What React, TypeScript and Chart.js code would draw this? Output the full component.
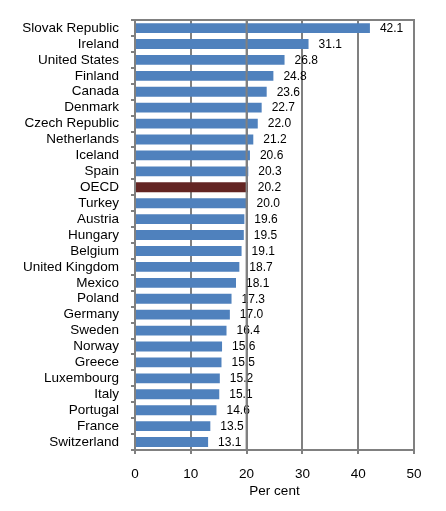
import React, { useEffect, useRef } from "react";
import { Chart, registerables } from "chart.js";

Chart.register(...registerables);

const categories = [
  "Slovak Republic", "Ireland", "United States", "Finland", "Canada", "Denmark",
  "Czech Republic", "Netherlands", "Iceland", "Spain", "OECD", "Turkey", "Austria",
  "Hungary", "Belgium", "United Kingdom", "Mexico", "Poland", "Germany", "Sweden",
  "Norway", "Greece", "Luxembourg", "Italy", "Portugal", "France", "Switzerland",
];
const values = [
  42.1, 31.1, 26.8, 24.8, 23.6, 22.7, 22.0, 21.2, 20.6, 20.3, 20.2, 20.0, 19.6,
  19.5, 19.1, 18.7, 18.1, 17.3, 17.0, 16.4, 15.6, 15.5, 15.2, 15.1, 14.6, 13.5, 13.1,
];
const highlight = "OECD";
const referenceValue = 20;
const xTitle = "Per cent";

const FONT = "'Liberation Sans', Arial, sans-serif";

export default function App() {
  const ref = useRef<HTMLCanvasElement | null>(null);

  useEffect(() => {
    if (!ref.current) return;
    const labelPlugin = {
      id: "valueLabels",
      afterDatasetsDraw(chart: any) {
        const ctx = chart.ctx;
        const meta = chart.getDatasetMeta(0);
        const xs = chart.scales.x;
        const area = chart.chartArea;
        ctx.save();
        ctx.font = `12px ${FONT}`;
        ctx.fillStyle = "#000";
        ctx.textAlign = "left";
        ctx.textBaseline = "middle";
        meta.data.forEach((bar: any, i: number) => {
          ctx.fillText(values[i].toFixed(1), bar.x + 10, bar.y + 0.5);
        });
        const rx = xs.getPixelForValue(referenceValue);
        ctx.strokeStyle = "#808080";
        ctx.lineWidth = 2;
        ctx.beginPath();
        ctx.moveTo(rx, area.top);
        ctx.lineTo(rx, area.bottom);
        ctx.stroke();
        ctx.restore();
      },
    };
    const chart = new Chart(ref.current, {
      type: "bar",
      data: {
        labels: categories,
        datasets: [
          {
            data: values,
            backgroundColor: categories.map((c) => (c === highlight ? "#632523" : "#4F81BD")),
            borderWidth: 0,
            barPercentage: 0.62,
            categoryPercentage: 1,
          },
        ],
      },
      options: {
        indexAxis: "y",
        responsive: false,
        animation: false,
        layout: { padding: { top: 17, right: 32, bottom: 0, left: 0 } },
        plugins: {
          legend: { display: false },
          tooltip: { enabled: false },
        },
        scales: {
          x: {
            min: 0,
            max: 50,
            ticks: {
              stepSize: 10,
              color: "#000",
              font: { family: FONT, size: 13.5 },
              padding: 12,
            },
            grid: {
              color: "#808080",
              lineWidth: 2,
              tickLength: 4,
              tickColor: "#808080",
            },
            border: { color: "#808080", width: 2 },
            title: {
              display: true,
              text: xTitle,
              color: "#000",
              font: { family: FONT, size: 13.5 },
              padding: { top: 2, bottom: 12 },
            },
            afterFit(scale: any) {
              scale.height = 61;
            },
          },
          y: {
            ticks: {
              color: "#000",
              font: { family: FONT, size: 13.5 },
              padding: 12,
              autoSkip: false,
            },
            grid: {
              drawOnChartArea: false,
              color: "#808080",
              lineWidth: 2,
              tickLength: 4,
              offset: true,
            },
            border: { color: "#808080", width: 2 },
            afterFit(scale: any) {
              scale.width = 135;
            },
          },
          x2: {
            position: "top",
            min: 0,
            max: 50,
            ticks: { display: false, stepSize: 10 },
            grid: { display: false },
            border: { color: "#808080", width: 2 },
            afterFit(scale: any) {
              scale.height = 0;
            },
          },
          y2: {
            position: "right",
            type: "category",
            labels: categories,
            ticks: { display: false },
            grid: { display: false },
            border: { color: "#808080", width: 2 },
            afterFit(scale: any) {
              scale.width = 0;
            },
          },
        },
      } as any,
      plugins: [labelPlugin],
    });
    return () => chart.destroy();
  }, []);

  return (
    <div style={{ position: "fixed", left: 0, top: 0, width: 446, height: 511, background: "#fff" }}>
      <canvas ref={ref} width={446} height={511} />
    </div>
  );
}
